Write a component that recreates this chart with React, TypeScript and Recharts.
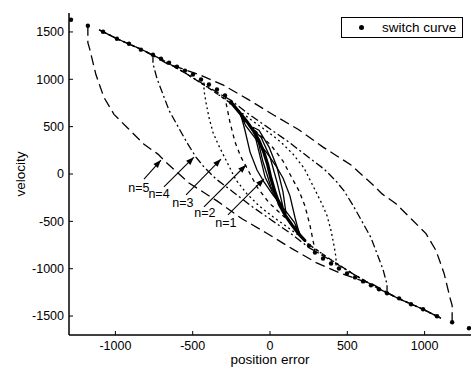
import React from "react";
import { ComposedChart, Line, XAxis, YAxis, ReferenceDot } from "recharts";

const xTicks = [-1000, -500, 0, 500, 1000];
const vTicks = [-1500, -1000, -500, 0, 500, 1000, 1500];

// switch curve samples: [position error, velocity]
const switchUpper = [
  [-1080, 1502], [-990, 1428], [-912, 1376], [-835, 1313], [-757, 1260],
  [-705, 1218], [-653, 1176], [-602, 1134], [-550, 1092], [-498, 1050],
  [-446, 998], [-395, 945], [-343, 893], [-291, 830], [-252, 756],
];
const switchLower = [
  [252, -756], [291, -830], [343, -893], [395, -945], [446, -998],
  [498, -1050], [550, -1092], [602, -1134], [653, -1176], [705, -1218],
  [757, -1260], [835, -1313], [912, -1376], [990, -1428], [1080, -1502],
];
const startDots = [[-1287, 1628], [-1178, 1565], [1178, -1565], [1287, -1628]];

// trajectories, one pair of branches for every n
const n5Left = [
  [-1178, 1565], [-1178, 1386], [-1165, 1313], [-1126, 1050], [-1074, 809],
  [-1009, 630], [-919, 483], [-815, 315], [-725, 210], [-660, 105],
  [-524, -95], [-343, -284], [-181, -473], [-26, -620], [142, -788],
  [298, -935], [459, -1050], [666, -1166], [828, -1313], [990, -1428], [1106, -1523],
];
const n5Right = [
  [1178, -1565], [1178, -1386], [1165, -1313], [1126, -1050], [1074, -809],
  [1009, -630], [919, -483], [815, -315], [725, -210], [660, -105],
  [524, 95], [343, 284], [181, 473], [26, 620], [-142, 788],
  [-298, 935], [-459, 1050], [-666, 1166], [-828, 1313], [-990, 1428], [-1106, 1523],
];
const n4Left = [
  [-757, 1260], [-757, 1166], [-731, 1008], [-692, 840], [-653, 672],
  [-589, 483], [-531, 315], [-479, 179], [-427, 74], [-349, -53],
  [-239, -189], [-123, -336], [6, -483], [136, -630], [252, -777],
  [362, -882], [459, -977], [543, -1061], [699, -1208], [828, -1313],
  [990, -1428], [1106, -1523],
];
const n4Right = [
  [757, -1260], [757, -1166], [731, -1008], [692, -840], [653, -672],
  [589, -483], [531, -315], [479, -179], [427, -74], [349, 53],
  [239, 189], [123, 336], [-6, 483], [-136, 630], [-252, 777],
  [-362, 882], [-459, 977], [-543, 1061], [-699, 1208], [-828, 1313],
  [-990, 1428], [-1106, 1523],
];
const n3Left = [
  [-427, 966], [-427, 882], [-414, 756], [-395, 599], [-369, 441],
  [-336, 315], [-304, 210], [-272, 105], [-220, -63], [-149, -210],
  [-71, -336], [19, -452], [110, -557], [188, -651], [252, -745],
  [382, -893], [543, -1061], [699, -1208], [828, -1313], [990, -1428], [1106, -1523],
];
const n3Right = [
  [427, -966], [427, -882], [414, -756], [395, -599], [369, -441],
  [336, -315], [304, -210], [272, -105], [220, 63], [149, 210],
  [71, 336], [-19, 452], [-110, 557], [-188, 651], [-252, 745],
  [-382, 893], [-543, 1061], [-699, 1208], [-828, 1313], [-990, 1428], [-1106, 1523],
];
const n2Left = [
  [-291, 830], [-285, 756], [-259, 546], [-226, 336], [-188, 179],
  [-142, 42], [-84, -137], [-6, -305], [84, -441], [162, -546],
  [200, -662], [252, -745], [382, -893], [543, -1061], [699, -1208],
  [828, -1313], [990, -1428], [1106, -1523],
];
const n2Right = [
  [291, -830], [285, -756], [259, -546], [226, -336], [188, -179],
  [142, -42], [84, 137], [6, 305], [-84, 441], [-162, 546],
  [-200, 662], [-252, 745], [-382, 893], [-543, 1061], [-699, 1208],
  [-828, 1313], [-990, 1428], [-1106, 1523],
];
const n1Left = [
  [-188, 620], [-162, 462], [-129, 231], [-84, 42], [-39, -84],
  [19, -221], [91, -368], [155, -504], [188, -609], [200, -662],
];
const n1Right = [
  [188, -620], [162, -462], [129, -231], [84, -42], [39, 84],
  [-19, 221], [-91, 368], [-155, 504], [-188, 609], [-200, 662],
];
const n1Inner = [
  [-110, 494], [-71, 231], [-32, -32], [32, -242], [104, -420],
  [84, -189], [45, 74], [-6, 284], [-71, 462], [-110, 494],
];
const n1Inner2 = [
  [-91, 441], [-45, 126], [6, -137], [84, -347], [45, -84],
  [0, 179], [-58, 389], [-91, 441],
];
const coreThick = [
  [-252, 756], [-200, 655], [-150, 555], [-105, 450], [-70, 350],
  [-40, 230], [-15, 100], [5, -40], [30, -180], [60, -320],
  [100, -440], [145, -545], [190, -640], [230, -710],
];

// annotation arrows
const arrowTails = [[-815, -53], [-686, -137], [-543, -221], [-427, -347], [-272, -431]];
const arrowTips = [[-705, 147], [-492, 178], [-317, 158], [-155, 95], [-39, -52]];
const labelSpots = [[-848, -147], [-718, -210], [-563, -305], [-421, -410], [-285, -515]];
const labels = ["n=5", "n=4", "n=3", "n=2", "n=1"];

const pts = (a: number[][]) => a.map(([x, v]) => ({ x, v }));

const FONT = "'Liberation Sans', Arial, Helvetica, sans-serif";

const ArrowTip = (props: any) => {
  const { cx, cy, index, points } = props;
  if (index !== 1) return <g key={`a-${index}`} />;
  let ang = -Math.PI / 4;
  if (points && points.length > 1) {
    ang = Math.atan2(points[1].y - points[0].y, points[1].x - points[0].x);
  }
  const L = 8, W = 3;
  const bx = cx - L * Math.cos(ang), by = cy - L * Math.sin(ang);
  const px = -Math.sin(ang) * W, py = Math.cos(ang) * W;
  return (
    <path
      key={`a-${index}`}
      d={`M${cx},${cy} L${bx + px},${by + py} L${bx - px},${by - py} Z`}
      fill="#000"
    />
  );
};

const traj = [
  { d: n5Left, dash: "10 5" }, { d: n5Right, dash: "10 5" },
  { d: n4Left, dash: "8 3 2 3" }, { d: n4Right, dash: "8 3 2 3" },
  { d: n3Left, dash: "2 3" }, { d: n3Right, dash: "2 3" },
  { d: n2Left, dash: "4 4" }, { d: n2Right, dash: "4 4" },
  { d: n1Left, dash: undefined }, { d: n1Right, dash: undefined },
  { d: n1Inner, dash: undefined }, { d: n1Inner2, dash: undefined },
];

export default function App() {
  const tickStyle = { fill: "#000", fontSize: 12.5, fontFamily: FONT };
  return (
    <div style={{ position: "absolute", left: 0, top: 0, width: 471, height: 372, background: "#fff" }}>
      <ComposedChart width={471} height={372} margin={{ top: 13, right: 0, bottom: 0, left: 0 }}>
        <XAxis
          dataKey="x"
          type="number"
          domain={[-1300, 1300]}
          allowDataOverflow
          ticks={xTicks}
          height={37}
          tickSize={-4}
          tickMargin={10}
          tick={tickStyle}
          axisLine={{ stroke: "#000", strokeWidth: 1.5 }}
          tickLine={{ stroke: "#000" }}
          label={{ value: "position error", position: "insideBottom", offset: 8, style: { fontSize: 13.5, fill: "#000", fontFamily: FONT } }}
        />
        <XAxis
          xAxisId="top"
          orientation="top"
          type="number"
          domain={[-1300, 1300]}
          allowDataOverflow
          ticks={xTicks}
          height={0}
          tickSize={-4}
          tick={false}
          axisLine={{ stroke: "#000", strokeWidth: 1.5 }}
          tickLine={{ stroke: "#000" }}
        />
        <YAxis
          dataKey="v"
          type="number"
          domain={[-1700, 1700]}
          allowDataOverflow
          ticks={vTicks}
          width={69}
          tickSize={-4}
          tickMargin={9}
          tick={tickStyle}
          axisLine={{ stroke: "#000", strokeWidth: 1.5 }}
          tickLine={{ stroke: "#000" }}
          label={{ value: "velocity", angle: -90, position: "insideLeft", offset: 20, style: { textAnchor: "middle", fontSize: 13.5, fill: "#000", fontFamily: FONT } }}
        />
        <YAxis
          yAxisId="right"
          orientation="right"
          type="number"
          domain={[-1700, 1700]}
          allowDataOverflow
          ticks={vTicks}
          width={0}
          tickSize={-4}
          tick={false}
          axisLine={{ stroke: "#000", strokeWidth: 1.5 }}
          tickLine={{ stroke: "#000" }}
        />

        {traj.map((t, i) => (
          <Line
            key={`t-${i}`}
            data={pts(t.d)}
            dataKey="v"
            type="linear"
            stroke="#000"
            strokeWidth={1.3}
            strokeDasharray={t.dash}
            dot={false}
            activeDot={false}
            isAnimationActive={false}
          />
        ))}
        <Line
          data={pts(coreThick)}
          dataKey="v"
          type="linear"
          stroke="#000"
          strokeWidth={3.2}
          dot={false}
          activeDot={false}
          isAnimationActive={false}
        />
        <Line
          data={pts([...switchUpper, ...switchLower, ...startDots])}
          dataKey="v"
          stroke="none"
          dot={{ r: 2.2, fill: "#000", stroke: "none" }}
          activeDot={false}
          isAnimationActive={false}
        />
        {arrowTails.map((tail, i) => (
          <Line
            key={`arr-${i}`}
            data={pts([tail, arrowTips[i]])}
            dataKey="v"
            type="linear"
            stroke="#000"
            strokeWidth={1.1}
            dot={ArrowTip}
            activeDot={false}
            isAnimationActive={false}
          />
        ))}
        {labelSpots.map(([x, v], i) => (
          <ReferenceDot
            key={`lab-${i}`}
            x={x}
            y={v}
            r={0}
            fill="none"
            stroke="none"
            label={{ value: labels[i], position: "center", style: { fontSize: 12.5, fill: "#000", fontFamily: FONT } }}
          />
        ))}
      </ComposedChart>
      <div
        style={{
          position: "absolute", left: 341, top: 17, width: 120, height: 19,
          border: "1px solid #000", background: "#fff", display: "flex", alignItems: "center",
          fontFamily: FONT, fontSize: 13.5, color: "#000",
        }}
      >
        <span style={{ width: 5, height: 5, borderRadius: "50%", background: "#000", marginLeft: 17 }} />
        <span style={{ marginLeft: 18, whiteSpace: "nowrap" }}>switch curve</span>
      </div>
    </div>
  );
}
